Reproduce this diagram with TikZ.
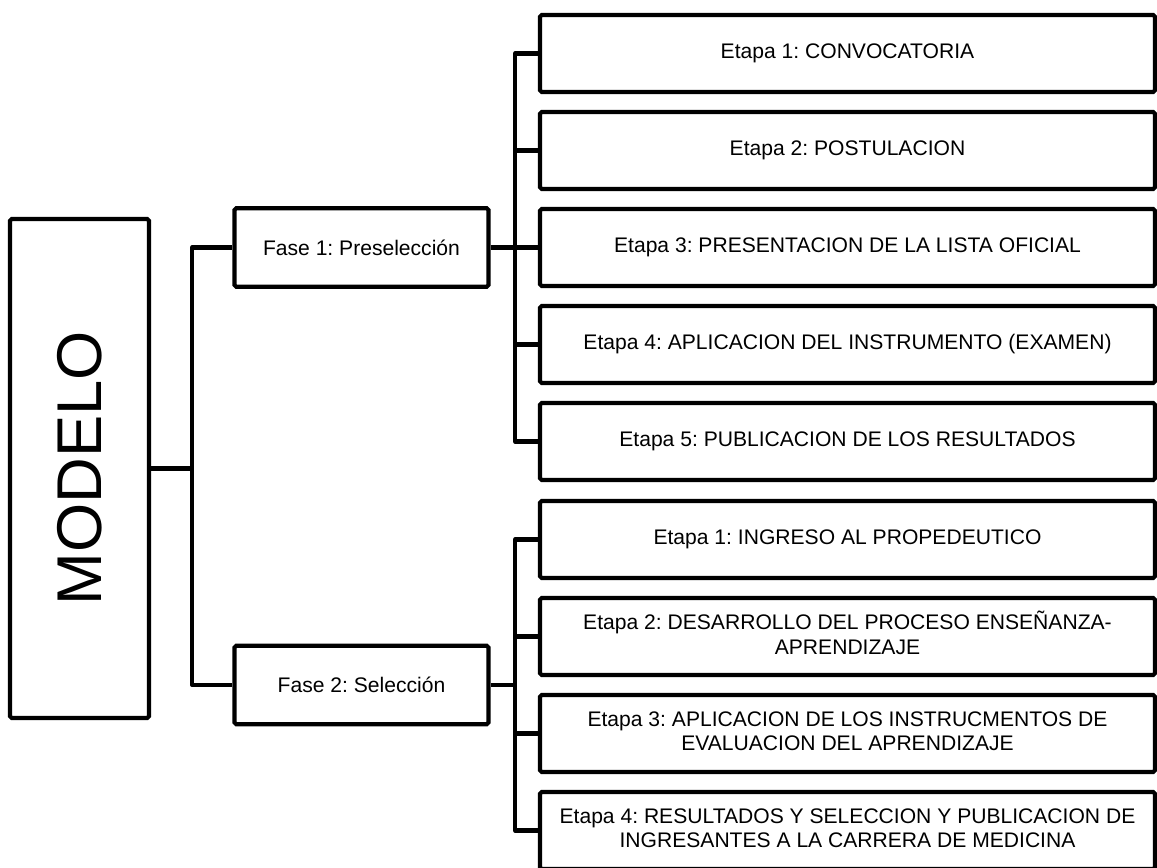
\documentclass[tikz,border=0pt]{standalone}
\usepackage{fontspec}
\setmainfont{Liberation Sans}
\usepackage{tikz}
\usetikzlibrary{calc}
\frenchspacing

\begin{document}
\begin{tikzpicture}

\tikzstyle{modelo_block} = [draw, inner sep=0, line width=2.3pt, rounded corners=1pt,
minimum width=9.98cm, minimum height=2.78cm, rotate=90, font=\fontsize{36}{40}\selectfont]
\tikzstyle{fase_block} = [draw, inner sep=0, line width=2.3pt, rounded corners=1pt,
minimum width=5.08cm, minimum height=1.57cm, font=\fontsize{12}{14}\selectfont]
\tikzstyle{etapa_block} = [draw, inner sep=0, line width=2.3pt, rounded corners=1pt,
minimum width=12.3cm, minimum height=1.54cm, font=\fontsize{12}{14}\selectfont]
\tikzstyle{linea} = [line width=2.3pt, line join=round]

\useasboundingbox (0,0) rectangle (23.14,17.34);

\node [modelo_block] (modelo) at (1.59,7.97) {MODELO};

\node [fase_block] (fase1) at (7.23,12.39) {Fase 1: Preselección};
\node [fase_block] (fase2) at (7.23,3.64) {Fase 2: Selección};

% fase 1
\node [etapa_block] (f1e1) at (16.95,16.27) {Etapa 1: CONVOCATORIA};
\node [etapa_block] (f1e2) at (16.95,14.33) {Etapa 2: POSTULACION};
\node [etapa_block] (f1e3) at (16.95,12.39) {Etapa 3: PRESENTACION DE LA LISTA OFICIAL};
\node [etapa_block] (f1e4) at (16.95,10.45) {Etapa 4: APLICACION DEL INSTRUMENTO (EXAMEN)};
\node [etapa_block] (f1e5) at (16.95,8.51) {Etapa 5: PUBLICACION DE LOS RESULTADOS};

% fase 2
\node [etapa_block] (f2e1) at (16.95,6.55) {Etapa 1: INGRESO AL PROPEDEUTICO};
\node [etapa_block] (f2e2) at (16.95,4.61) {\begin{tabular}{c} Etapa 2: DESARROLLO DEL PROCESO ENSEÑANZA-\\ APRENDIZAJE\end{tabular}};
\node [etapa_block] (f2e3) at (16.95,2.67) {\begin{tabular}{c} Etapa 3: APLICACION DE LOS INSTRUCMENTOS DE\\ EVALUACION DEL APRENDIZAJE\end{tabular}};
\node [etapa_block] (f2e4) at (16.95,0.73) {\begin{tabular}{c} Etapa 4: RESULTADOS Y SELECCION Y PUBLICACION DE\\ INGRESANTES A LA CARRERA DE MEDICINA\end{tabular}};

\coordinate (tronco) at (3.84,0);
\coordinate (rama) at (10.3,0);

\draw [linea] (modelo.south) -- (modelo.south -| tronco);
\draw [linea] (fase1.west) -- (fase1.west -| tronco) -- (fase2.west -| tronco) -- (fase2.west);

\draw [linea] (fase1.east) -- (fase1.east -| rama);
\draw [linea] (f1e1.west) -- (f1e1.west -| rama) -- (f1e5.west -| rama) -- (f1e5.west);
\draw [linea] (f1e2.west) -- (f1e2.west -| rama);
\draw [linea] (f1e3.west) -- (f1e3.west -| rama);
\draw [linea] (f1e4.west) -- (f1e4.west -| rama);

\draw [linea] (fase2.east) -- (fase2.east -| rama);
\draw [linea] (f2e1.west) -- (f2e1.west -| rama) -- (f2e4.west -| rama) -- (f2e4.west);
\draw [linea] (f2e2.west) -- (f2e2.west -| rama);
\draw [linea] (f2e3.west) -- (f2e3.west -| rama);

\end{tikzpicture}
\end{document}
